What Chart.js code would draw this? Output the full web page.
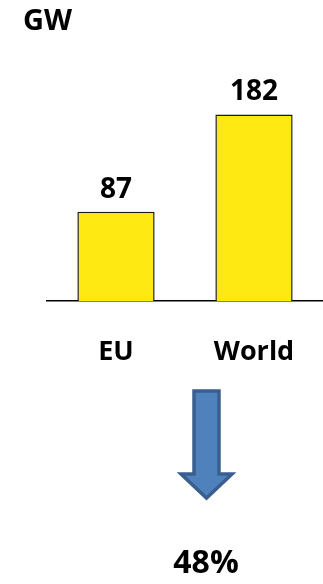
<!DOCTYPE html>
<html>
<head>
<meta charset="utf-8">
<script src="https://cdn.jsdelivr.net/npm/chart.js@4"></script>
<style>
  html, body { margin: 0; padding: 0; background: #fff; }
  #wrap { position: relative; width: 323px; height: 584px; }
</style>
</head>
<body>
<div id="wrap"><canvas id="chart"></canvas></div>
<script>
// data
const categories = ['EU', 'World'];
const capacity = [87, 182];
const unitLabel = 'GW';
const shareLabel = '48%';

const FONT = '"Open Sans", sans-serif';

// value labels, unit, arrow and share text
const overlay = {
  id: 'overlay',
  afterDatasetsDraw(chart) {
    const ctx = chart.ctx;
    const meta = chart.getDatasetMeta(0);
    ctx.save();
    ctx.fillStyle = '#000';
    ctx.textAlign = 'center';
    ctx.textBaseline = 'alphabetic';
    ctx.font = 'bold 28px ' + FONT;
    meta.data.forEach(function(bar, i) {
      ctx.fillText(String(capacity[i]), bar.x, bar.y - 14);
    });

    ctx.textAlign = 'left';
    ctx.font = 'bold 29px ' + FONT;
    ctx.fillText(unitLabel, 23, 30);

    // down arrow
    ctx.beginPath();
    ctx.moveTo(194, 391);
    ctx.lineTo(219, 391);
    ctx.lineTo(219, 474);
    ctx.lineTo(232, 474);
    ctx.lineTo(206.5, 498);
    ctx.lineTo(181, 474);
    ctx.lineTo(194, 474);
    ctx.closePath();
    ctx.fillStyle = '#4F81BD';
    ctx.fill();
    ctx.lineWidth = 3.5;
    ctx.strokeStyle = '#3A5F8E';
    ctx.lineJoin = 'miter';
    ctx.stroke();

    ctx.fillStyle = '#000';
    ctx.textAlign = 'center';
    ctx.font = 'bold 32px ' + FONT;
    ctx.fillText(shareLabel, 206, 573);
    ctx.restore();
  }
};

document.addEventListener('DOMContentLoaded', function() {
  const ctx = document.getElementById('chart');
  new Chart(ctx, {
    type: 'bar',
    data: {
      labels: categories,
      datasets: [{
        data: capacity,
        backgroundColor: '#FFE912',
        borderColor: '#1a1a1a',
        borderWidth: 1.5,
        categoryPercentage: 1,
        barPercentage: 0.56
      }]
    },
    options: {
      responsive: true,
      maintainAspectRatio: false,
      animation: false,
      layout: { padding: { top: 96, left: 47, right: 0, bottom: 0 } },
      plugins: {
        legend: { display: false },
        tooltip: { enabled: false }
      },
      scales: {
        y: {
          display: false,
          beginAtZero: true,
          min: 0,
          max: 200
        },
        x: {
          grid: { display: false },
          border: { display: true, color: '#000', width: 1.5 },
          ticks: {
            color: '#000',
            padding: 27,
            font: { family: FONT, size: 27, weight: 'bold' }
          },
          afterFit: function(scale) {
            scale.height = 283;
            scale.paddingLeft = 0;
            scale.paddingRight = 0;
          }
        }
      }
    },
    plugins: [overlay]
  });
});
</script>
</body>
</html>
